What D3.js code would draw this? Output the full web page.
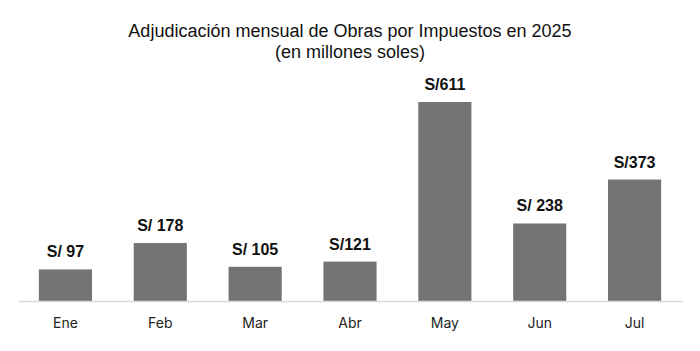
<!DOCTYPE html>
<html>
<head>
<meta charset="utf-8">
<script src="https://cdn.jsdelivr.net/npm/d3@7"></script>
<style>
  body { margin: 0; background: #fff; }
</style>
</head>
<body>
<div id="chart"></div>
<script>
// Chart data
const months = ["Ene", "Feb", "Mar", "Abr", "May", "Jun", "Jul"];
const amounts = [97, 178, 105, 121, 611, 238, 373];
const amountLabels = ["S/ 97", "S/ 178", "S/ 105", "S/121", "S/611", "S/ 238", "S/373"];
const titleLines = ["Adjudicación mensual de Obras por Impuestos en 2025", "(en millones soles)"];

const width = 700, height = 351;
const margin = { top: 102, right: 18, bottom: 50, left: 18 };
const innerW = width - margin.left - margin.right;
const innerH = height - margin.top - margin.bottom;

const svg = d3.select("#chart").append("svg")
    .attr("width", width)
    .attr("height", height);

const g = svg.append("g").attr("transform", `translate(${margin.left},${margin.top})`);

// Scales
const x = d3.scaleBand().domain(months).range([0, innerW]).paddingInner(0.44).paddingOuter(0.22);
const y = d3.scaleLinear().domain([0, d3.max(amounts)]).range([innerH, 0]);

// Bars
g.selectAll(".bar")
    .data(amounts)
    .join("rect")
    .attr("class", "bar")
    .attr("x", (d, i) => x(months[i]))
    .attr("y", d => y(d))
    .attr("width", x.bandwidth())
    .attr("height", d => innerH - y(d))
    .attr("fill", "#747474");

// Value labels
g.selectAll(".val")
    .data(amounts)
    .join("text")
    .attr("class", "val")
    .attr("x", (d, i) => x(months[i]) + x.bandwidth() / 2)
    .attr("y", d => y(d) - 12)
    .attr("text-anchor", "middle")
    .style("font-family", "'Liberation Sans', Arial, sans-serif")
    .style("font-weight", "bold")
    .style("font-size", "16px")
    .attr("fill", "#111")
    .text((d, i) => amountLabels[i]);

// X axis
const xAxis = g.append("g")
    .attr("transform", `translate(0,${innerH})`)
    .call(d3.axisBottom(x).tickSize(0).tickPadding(17));
xAxis.select(".domain").attr("stroke", "#d9d9d9").attr("stroke-width", 1.5);
xAxis.selectAll("text")
    .style("font-family", "Inter, 'Noto Sans', sans-serif")
    .style("font-size", "14px")
    .attr("fill", "#222");

// Title
svg.append("text")
    .attr("x", width / 2)
    .attr("y", 37)
    .attr("text-anchor", "middle")
    .style("font-family", "'Liberation Sans', Arial, sans-serif")
    .style("font-size", "18px")
    .attr("fill", "#111")
    .selectAll("tspan")
    .data(titleLines)
    .join("tspan")
    .attr("x", width / 2)
    .attr("dy", (d, i) => i === 0 ? 0 : 21)
    .text(d => d);
</script>
</body>
</html>
